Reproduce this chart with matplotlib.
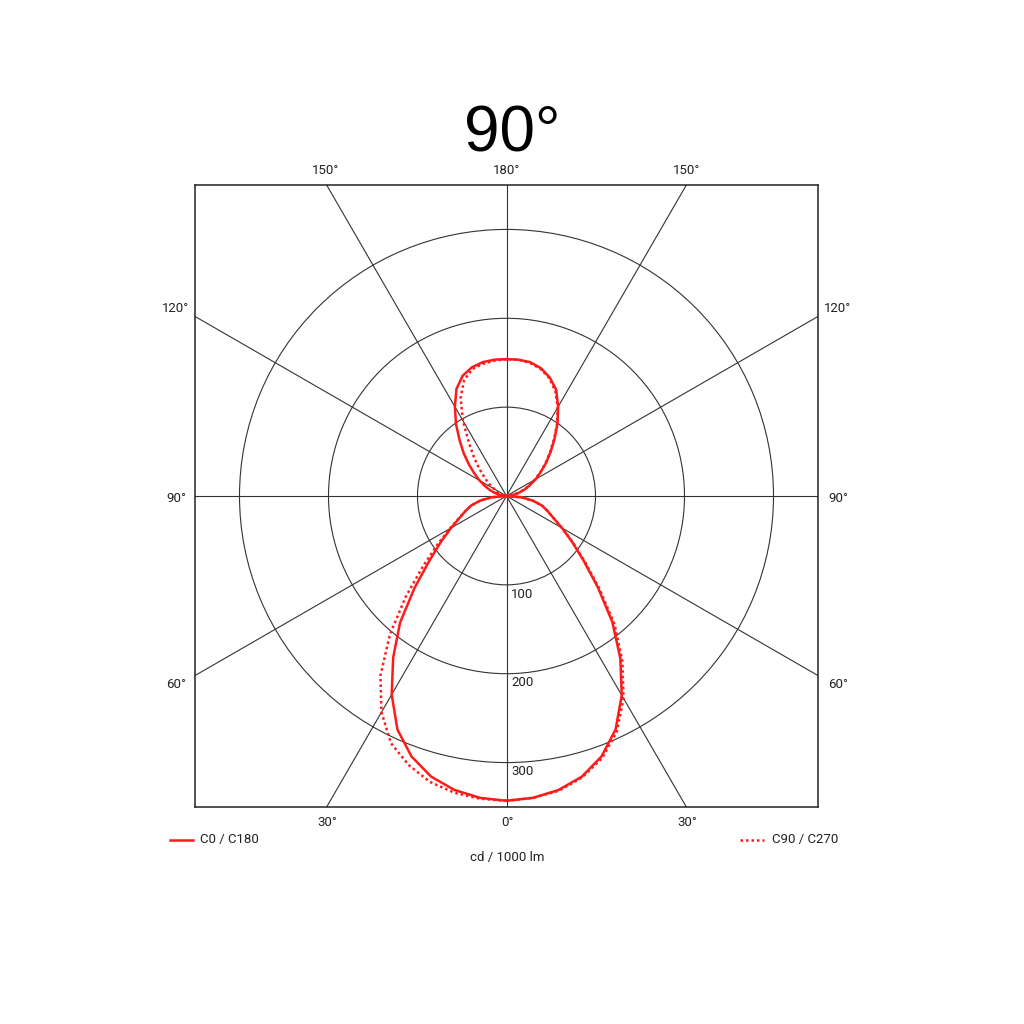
import numpy as np
import matplotlib
matplotlib.use("Agg")
import matplotlib.pyplot as plt
from matplotlib.patches import Circle

# gamma angles (deg), 0 = straight down, 180 = straight up
gamma = [0, 5, 10, 15, 20, 25, 30, 35, 40, 45, 50, 55, 60, 65, 70, 75, 80, 85, 90,
         95, 100, 105, 110, 115, 120, 125, 130, 135, 140, 145, 150, 155, 160, 165, 170, 175, 180]

# cd / 1000 lm
c0 = [343, 341, 336, 327, 312, 290, 259, 223, 185, 145, 113, 90, 72, 58, 49, 41, 30, 17, 0,
      4, 8, 15, 22, 29, 38, 47, 58, 70, 84, 100, 116, 132, 142, 149, 153, 154, 154]
c180 = [343, 341, 336, 327, 312, 290, 258, 222, 186, 146, 113, 90, 72, 58, 49, 41, 30, 17, 0,
        4, 8, 14, 20, 27, 35, 44, 55, 68, 82, 99, 116, 133, 144, 150, 153, 154, 154]
c90 = [343, 341, 337, 328, 314, 293, 263, 227, 189, 148, 115, 91, 72, 58, 49, 41, 30, 17, 0,
       4, 8, 14, 21, 28, 37, 46, 57, 69, 83, 99, 115, 130, 141, 148, 152, 154, 154]
c270 = [343, 342, 339, 333, 322, 307, 281, 247, 204, 160, 122, 94, 74, 59, 49, 41, 30, 17, 0,
        3, 4, 7, 10, 13, 16, 24, 32, 43, 57, 74, 98, 122, 139, 148, 151, 153, 154]

ring_values = [100, 200, 300]
spoke_angles = [0, 30, 60, 90, 120, 150]
rmax = 350

title = "90°"
legend_solid = "C0 / C180"
legend_dotted = "C90 / C270"
unit_label = "cd / 1000 lm"

fig = plt.figure(figsize=(10.24, 10.24), dpi=100)
fig.patch.set_facecolor("white")
W = H = 1024.0
ax = fig.add_axes([195 / W, 1 - 807 / H, 623 / W, 622 / H])
ax.set_xlim(-rmax, rmax)
ax.set_ylim(-rmax, rmax)
ax.set_aspect("auto")
ax.set_xticks([])
ax.set_yticks([])
for s in ax.spines.values():
    s.set_linewidth(1.1)
    s.set_color("#222222")

grid_c = "#333333"
for rv in ring_values:
    ax.add_patch(Circle((0, 0), rv, fill=False, lw=0.8, color=grid_c, zorder=1))
for a in spoke_angles:
    t = np.deg2rad(a)
    L = 1000
    ax.plot([-L * np.sin(t), L * np.sin(t)], [-L * np.cos(t), L * np.cos(t)],
            color=grid_c, lw=0.8, zorder=1)

g = np.deg2rad(np.array(gamma, dtype=float))

def side(vals, sign):
    v = np.array(vals, dtype=float)
    return sign * v * np.sin(g), -v * np.cos(g)

red = "#ff1a1a"
x, y = side(c0, 1)
ax.plot(x, y, color=red, lw=1.8, zorder=3, solid_joinstyle="round")
x, y = side(c180, -1)
ax.plot(x, y, color=red, lw=1.8, zorder=3, solid_joinstyle="round")
x, y = side(c90, 1)
ax.plot(x, y, color=red, lw=1.8, ls=(0, (1, 1.2)), zorder=2)
x, y = side(c270, -1)
ax.plot(x, y, color=red, lw=1.8, ls=(0, (1, 1.2)), zorder=2)

for rv in ring_values:
    ax.text(5, -rv - 3, str(rv), ha="left", va="top", fontsize=9.5,
            family="Roboto", color="#222222", zorder=4)

# angle labels in figure pixel coordinates
def ftext(px, py, s, **kw):
    fig.text(px / W, 1 - py / H, s, **kw)

lab = dict(fontsize=9.5, family="Roboto", color="#222222", ha="center", va="center")
ftext(507, 170, "180°", **lab)
ftext(326, 170, "150°", **lab)
ftext(687, 170, "150°", **lab)
ftext(176, 309, "120°", **lab)
ftext(838, 309, "120°", **lab)
ftext(176, 498, "90°", **lab)
ftext(838, 498, "90°", **lab)
ftext(176, 684, "60°", **lab)
ftext(838, 684, "60°", **lab)
ftext(327, 823, "30°", **lab)
ftext(507, 823, "0°", **lab)
ftext(687, 823, "30°", **lab)

ftext(512, 134, title, fontsize=46, family="Liberation Sans", color="black",
      ha="center", va="center")

fig.add_artist(plt.Line2D([170 / W, 193 / W], [1 - 840 / H, 1 - 840 / H],
                          color=red, lw=1.8))
ftext(200, 840, legend_solid, fontsize=9.5, family="Roboto", color="#222222",
      ha="left", va="center")
fig.add_artist(plt.Line2D([740 / W, 764 / W], [1 - 840 / H, 1 - 840 / H],
                          color=red, lw=1.8, ls=(0, (1, 1.2))))
ftext(772, 840, legend_dotted, fontsize=9.5, family="Roboto", color="#222222",
      ha="left", va="center")
ftext(507, 857, unit_label, fontsize=9.5, family="Roboto", color="#222222",
      ha="center", va="center")

fig.savefig("out.png", dpi=100, facecolor="white")
